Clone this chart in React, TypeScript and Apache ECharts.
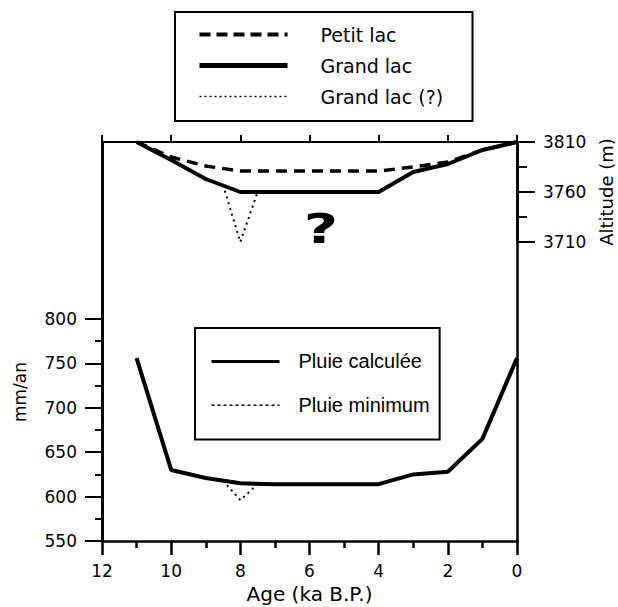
import React, { useEffect, useRef } from "react";
import * as echarts from "echarts";

// ---- Data ----
const lakeAges = [11, 10, 9, 8, 7, 6, 5, 4, 3, 2, 1, 0];
const petitLac = [3810, 3795, 3786, 3781, 3781, 3781, 3781, 3781, 3785, 3790, 3802, 3810];
const grandLac = [3810, 3792, 3773, 3760, 3760, 3760, 3760, 3760, 3780, 3788, 3802, 3810];
const grandLacQAges = [8.5, 8, 7.5];
const grandLacQ = [3767, 3710, 3760];

const rainAges = [11, 10, 9, 8, 7, 6, 5, 4, 3, 2, 1, 0];
const pluieCalculee = [756, 630, 621, 615, 614, 614, 614, 614, 625, 628, 665, 756];
const pluieMinAges = [8.5, 8, 7.5];
const pluieMinimum = [618, 596, 614];

const ageRange = [0, 12];
const rainRange = [550, 800];
const altRange = [3710, 3810];

const SANS = '"DejaVu Sans", "Liberation Sans", sans-serif';
const ARIAL = '"Liberation Sans", Arial, sans-serif';
const BLACK = "#000";

const pairs = (xs: number[], ys: number[]) => xs.map((x, i) => [x, ys[i]]);
const plain = (v: number) => String(v);
const hiddenSymbol = { color: "rgba(0,0,0,0)", borderWidth: 0, opacity: 0 };

export default function App() {
  const ref = useRef<HTMLDivElement>(null);

  useEffect(() => {
    document.body.style.margin = "0";
    if (!ref.current) return;
    const chart = echarts.init(ref.current, null, { renderer: "svg" });

    const hiddenX = (gridIndex: number) => ({
      gridIndex,
      type: "value",
      min: ageRange[0],
      max: ageRange[1],
      inverse: true,
      show: false,
    });

    const option: any = {
      animation: false,
      backgroundColor: "#fff",
      grid: [
        { left: 102, top: 142, width: 415, height: 399, outerBoundsMode: "none" },
        { left: 102, top: 319, width: 415, height: 222, outerBoundsMode: "none" },
        { left: 102, top: 142, width: 415, height: 100, outerBoundsMode: "none" },
      ],
      xAxis: [
        {
          gridIndex: 0,
          type: "value",
          min: ageRange[0],
          max: ageRange[1],
          interval: 2,
          inverse: true,
          position: "bottom",
          axisLine: { show: true, onZero: false, lineStyle: { color: BLACK, width: 2.5 } },
          axisTick: { show: true, length: 14, lineStyle: { color: BLACK, width: 2.5 } },
          minorTick: { show: true, splitNumber: 2, length: 7, lineStyle: { color: BLACK, width: 2.5 } },
          axisLabel: { color: BLACK, fontSize: 17, fontFamily: SANS, margin: 21, formatter: plain },
          splitLine: { show: false },
          minorSplitLine: { show: false },
          name: "Age (ka B.P.)",
          nameLocation: "middle",
          nameGap: 41,
          nameTextStyle: { color: BLACK, fontSize: 20, fontFamily: SANS },
        },
        {
          gridIndex: 0,
          type: "value",
          min: ageRange[0],
          max: ageRange[1],
          interval: 2,
          inverse: true,
          position: "top",
          axisLine: { show: true, onZero: false, lineStyle: { color: BLACK, width: 2 } },
          axisTick: { show: true, length: 7, lineStyle: { color: BLACK, width: 2 } },
          axisLabel: { show: false },
          splitLine: { show: false },
        },
        hiddenX(1),
        hiddenX(2),
      ],
      yAxis: [
        {
          gridIndex: 0,
          type: "value",
          min: 0,
          max: 1,
          position: "left",
          axisLine: { show: true, onZero: false, lineStyle: { color: BLACK, width: 3 } },
          axisTick: { show: false },
          minorTick: { show: false },
          axisLabel: { show: false },
          splitLine: { show: false },
        },
        {
          gridIndex: 0,
          type: "value",
          min: 0,
          max: 1,
          position: "right",
          axisLine: { show: true, onZero: false, lineStyle: { color: BLACK, width: 2.5 } },
          axisTick: { show: false },
          minorTick: { show: false },
          axisLabel: { show: false },
          splitLine: { show: false },
        },
        {
          gridIndex: 1,
          type: "value",
          min: rainRange[0],
          max: rainRange[1],
          interval: 50,
          position: "left",
          axisLine: { show: true, onZero: false, lineStyle: { color: BLACK, width: 3 } },
          axisTick: { show: true, length: 17, lineStyle: { color: BLACK, width: 2 } },
          minorTick: { show: true, splitNumber: 2, length: 7, lineStyle: { color: BLACK, width: 2 } },
          axisLabel: { color: BLACK, fontSize: 17, fontFamily: SANS, margin: 25, formatter: plain },
          splitLine: { show: false },
          minorSplitLine: { show: false },
        },
        {
          gridIndex: 2,
          type: "value",
          min: altRange[0],
          max: altRange[1],
          interval: 50,
          position: "right",
          axisLine: { show: true, onZero: false, lineStyle: { color: BLACK, width: 2.5 } },
          axisTick: { show: true, length: 18, lineStyle: { color: BLACK, width: 2 } },
          minorTick: { show: true, splitNumber: 2, length: 10, lineStyle: { color: BLACK, width: 2 } },
          axisLabel: { color: BLACK, fontSize: 17, fontFamily: SANS, margin: 26, formatter: plain },
          splitLine: { show: false },
          minorSplitLine: { show: false },
          name: "Altitude (m)",
          nameLocation: "middle",
          nameRotate: 90,
          nameGap: 79,
          nameTextStyle: { color: BLACK, fontSize: 18, fontFamily: SANS },
        },
      ],
      legend: [
        {
          orient: "vertical",
          left: 175,
          top: 12,
          padding: [13, 8, 15, 22],
          itemWidth: 88,
          itemHeight: 20,
          itemGap: 12,
          borderColor: BLACK,
          borderWidth: 2,
          selectedMode: false,
          itemStyle: hiddenSymbol,
          formatter: "{g| }{t|{name}}",
          textStyle: {
            color: BLACK,
            rich: {
              g: { width: 28 },
              t: { width: 144, fontSize: 19, fontFamily: SANS, lineHeight: 20, color: BLACK },
            },
          },
          data: [
            { name: "Petit lac", itemStyle: hiddenSymbol, lineStyle: { width: 4, type: [11, 6] } },
            { name: "Grand lac", itemStyle: hiddenSymbol, lineStyle: { width: 5, type: "solid" } },
            { name: "Grand lac (?)", itemStyle: hiddenSymbol, lineStyle: { width: 1.5, type: [2, 3] } },
          ],
        },
        {
          orient: "vertical",
          left: 195,
          top: 328,
          padding: [23, 10, 24, 15],
          itemWidth: 68,
          itemHeight: 26,
          itemGap: 23,
          borderColor: BLACK,
          borderWidth: 2,
          selectedMode: false,
          itemStyle: hiddenSymbol,
          formatter: "{g| }{t|{name}}",
          textStyle: {
            color: BLACK,
            rich: {
              g: { width: 14 },
              t: { width: 131, fontSize: 20, fontFamily: ARIAL, lineHeight: 26, color: BLACK },
            },
          },
          data: [
            { name: "Pluie calculée", itemStyle: hiddenSymbol, lineStyle: { width: 3, type: "solid" } },
            { name: "Pluie minimum", itemStyle: hiddenSymbol, lineStyle: { width: 1.5, type: [3, 3] } },
          ],
        },
      ],
      series: [
        {
          name: "Petit lac",
          type: "line",
          xAxisIndex: 3,
          yAxisIndex: 3,
          data: pairs(lakeAges, petitLac),
          symbol: "none",
          clip: false,
          itemStyle: { color: BLACK },
          lineStyle: { color: BLACK, width: 3.5, type: [11, 7] },
          z: 3,
        },
        {
          name: "Grand lac",
          type: "line",
          xAxisIndex: 3,
          yAxisIndex: 3,
          data: pairs(lakeAges, grandLac),
          symbol: "none",
          clip: false,
          itemStyle: { color: BLACK },
          lineStyle: { color: BLACK, width: 4, type: "solid" },
          z: 4,
        },
        {
          name: "Grand lac (?)",
          type: "line",
          xAxisIndex: 3,
          yAxisIndex: 3,
          data: pairs(grandLacQAges, grandLacQ),
          symbol: "none",
          clip: false,
          itemStyle: { color: BLACK },
          lineStyle: { color: BLACK, width: 2, type: [2, 4] },
          z: 3,
        },
        {
          name: "Pluie calculée",
          type: "line",
          xAxisIndex: 2,
          yAxisIndex: 2,
          data: pairs(rainAges, pluieCalculee),
          symbol: "none",
          clip: false,
          itemStyle: { color: BLACK },
          lineStyle: { color: BLACK, width: 4, type: "solid" },
          z: 4,
        },
        {
          name: "Pluie minimum",
          type: "line",
          xAxisIndex: 2,
          yAxisIndex: 2,
          data: pairs(pluieMinAges, pluieMinimum),
          symbol: "none",
          clip: false,
          itemStyle: { color: BLACK },
          lineStyle: { color: BLACK, width: 2, type: [2, 4] },
          z: 3,
        },
      ],
      graphic: [
        {
          type: "text",
          x: 20,
          y: 392,
          rotation: Math.PI / 2,
          style: {
            text: "mm/an",
            fontSize: 17,
            fontFamily: SANS,
            fill: BLACK,
            align: "center",
            verticalAlign: "middle",
          },
        },
        {
          type: "text",
          x: 321,
          y: 229,
          scaleX: 1.45,
          style: {
            text: "?",
            fontSize: 41,
            fontWeight: "bold",
            fontFamily: SANS,
            fill: BLACK,
            align: "center",
            verticalAlign: "middle",
          },
        },
      ],
    };

    chart.setOption(option);
    return () => chart.dispose();
  }, []);

  return <div ref={ref} style={{ width: 618, height: 607 }} />;
}
